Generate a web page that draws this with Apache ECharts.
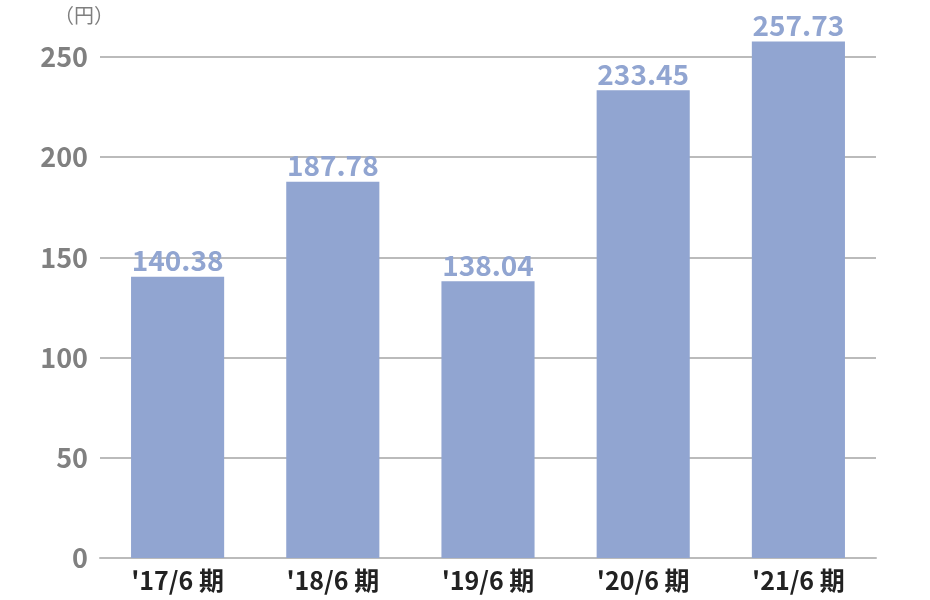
<!DOCTYPE html>
<html><head><meta charset="utf-8">
<script src="https://cdn.jsdelivr.net/npm/echarts@6/dist/echarts.min.js"></script>
<style>html,body{margin:0;padding:0;background:#fff}#c{width:930px;height:600px}</style>
</head><body><div id="c"></div>
<script>
const categories = ["'17/6 期", "'18/6 期", "'19/6 期", "'20/6 期", "'21/6 期"];
const values = [140.38, 187.78, 138.04, 233.45, 257.73];
const yTicks = [0, 50, 100, 150, 200, 250];

const FONT = '"Noto Sans CJK JP", "Noto Sans", sans-serif';
const chart = echarts.init(document.getElementById('c'));
chart.setOption({
  animation: false,
  grid: { left: 100, right: 54, top: 57, bottom: 42 },
  xAxis: {
    type: 'category', data: categories,
    axisTick: { show: false },
    axisLine: { lineStyle: { color: '#bbbbbb', width: 2 } },
    axisLabel: { color: '#222', fontSize: 25, fontWeight: 'bold', margin: 10, fontFamily: FONT }
  },
  yAxis: {
    type: 'value', min: 0, max: 250, interval: 50,
    axisLine: { show: false }, axisTick: { show: false },
    splitLine: { lineStyle: { color: '#bbbbbb', width: 2 } },
    axisLabel: { color: '#808080', fontSize: 27, fontWeight: 'bold', margin: 12, fontFamily: FONT,
      formatter: v => yTicks.includes(v) ? String(v) : '' }
  },
  graphic: [{ type: 'text', left: 54, top: 5,
    style: { text: '（円）', fill: '#7f7f7f', fontSize: 20, fontFamily: FONT } }],
  series: [{
    type: 'bar', data: values, barWidth: '60%', clip: false,
    itemStyle: { color: '#91a5d1' },
    label: { show: true, position: 'top', distance: 2, color: '#91a5d1',
      fontSize: 28, fontWeight: 'bold', fontFamily: FONT,
      formatter: p => p.value.toFixed(2) }
  }]
});
</script></body></html>
